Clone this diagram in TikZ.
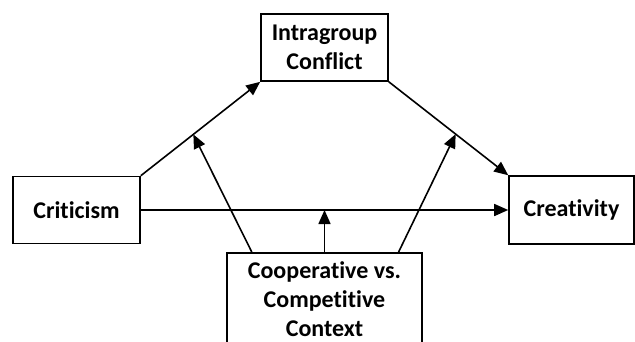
\documentclass[tikz,border=0pt]{standalone}
\usepackage{fontspec}
\setmainfont{Carlito}[Ligatures=NoCommon]
\usetikzlibrary{arrows.meta,shapes,calc}
\tikzstyle{vbox}=[rectangle,draw=black,line width=1.6pt,minimum width=127pt,minimum height=67pt,align=center,font=\fontsize{24}{29}\selectfont\bfseries]
\tikzstyle{dgraph}=[-{Triangle[length=14pt,width=12pt]}, line width=1.6pt]

\begin{document}
\begin{tikzpicture}[x=1pt,y=-1pt,dgraph]
\clip (0,0) rectangle (635,341);
\node[vbox] (Conf) at (324.5,47.5) {Intragroup\\Conflict};
\node[vbox] (Crit) at (76.5,210) {Criticism};
\node[vbox,minimum width=125pt,minimum height=68pt] (Crea) at (571.5,210) {Creativity};
\node[vbox,minimum width=195pt,minimum height=92pt,anchor=north] (Ctx) at (324.5,252) {Cooperative vs.\\Competitive\\Context};
\coordinate (ml) at ($(Crit.north east)!0.44!(Conf.south west)$);
\coordinate (mr) at ($(Conf.south east)!0.56!(Crea.north west)$);
\draw(Crit.north east)--(Conf.south west);
\draw(Conf.south east)--(Crea.north west);
\draw(Crit.east)--(Crea.west);
\draw($(Ctx.north west)!0.13!(Ctx.north east)$)--(ml);
\draw($(Ctx.north west)!0.877!(Ctx.north east)$)--(mr);
\draw(Ctx.north)--(Ctx.north |- Crit.east);
\end{tikzpicture}
\end{document}
